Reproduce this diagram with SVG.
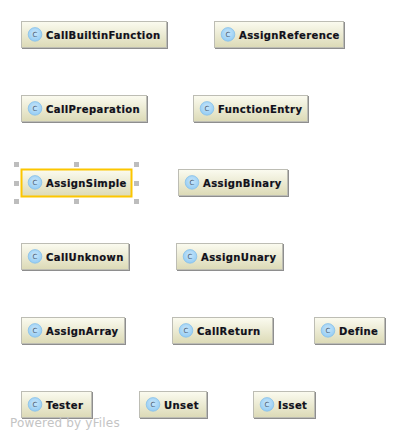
<svg xmlns="http://www.w3.org/2000/svg" width="406" height="439" viewBox="0 0 406 439">
<defs>
<linearGradient id="g" x1="0" y1="0" x2="0" y2="1"><stop offset="0" stop-color="#fbfbf0"/><stop offset="1" stop-color="#dcdab6"/></linearGradient>
<radialGradient id="c" cx="0.5" cy="0.4" r="0.6"><stop offset="0" stop-color="#c8e6fa"/><stop offset="1" stop-color="#94ccf4"/></radialGradient>
<g id="icon"><circle cx="14" cy="13.4" r="6.8" fill="url(#c)" stroke="#88c0e8" stroke-width="0.8"/><text x="14" y="15.8" class="ic">C</text></g>
</defs>
<style>
.b{fill:url(#g);stroke:#bdbdb4;stroke-width:1}
.s{fill:#8e8e8e}
.t{font:bold 10px "DejaVu Sans",sans-serif;fill:#10101a;stroke:#10101a;stroke-width:.2px;letter-spacing:.42px}
.ic{font:7px "DejaVu Sans",sans-serif;fill:#4a5a70;text-anchor:middle}
.h{fill:#bdbdbd}
.w{font:12px "DejaVu Sans",sans-serif;fill:#c4c4c4;letter-spacing:.18px}
</style>
<g id="connectors"/>
<g id="n1" transform="translate(21,21)"><rect class="s" x="1" y="1" width="146" height="27"/><rect class="b" x=".5" y=".5" width="145" height="26"/><use href="#icon"/><text class="t" x="25" y="18">CallBuiltinFunction</text></g>
<g id="n2" transform="translate(214,21)"><rect class="s" x="1" y="1" width="130" height="27"/><rect class="b" x=".5" y=".5" width="129" height="26"/><use href="#icon"/><text class="t" x="25" y="18">AssignReference</text></g>
<g id="n3" transform="translate(21,95)"><rect class="s" x="1" y="1" width="126" height="27"/><rect class="b" x=".5" y=".5" width="125" height="26"/><use href="#icon"/><text class="t" x="25" y="18">CallPreparation</text></g>
<g id="n4" transform="translate(193,95)"><rect class="s" x="1" y="1" width="115" height="27"/><rect class="b" x=".5" y=".5" width="114" height="26"/><use href="#icon"/><text class="t" x="25" y="18">FunctionEntry</text></g>
<g id="n5" transform="translate(21,169)"><rect x=".5" y=".5" width="110" height="27" fill="url(#g)" stroke="#fcc600" stroke-width="2"/><use href="#icon"/><text class="t" x="25" y="18">AssignSimple</text></g>
<g id="handles"><rect class="h" x="14" y="162" width="5" height="5"/><rect class="h" x="74" y="162" width="5" height="5"/><rect class="h" x="134" y="162" width="5" height="5"/><rect class="h" x="14" y="181" width="5" height="5"/><rect class="h" x="134" y="181" width="5" height="5"/><rect class="h" x="14" y="199" width="5" height="5"/><rect class="h" x="74" y="199" width="5" height="5"/><rect class="h" x="134" y="199" width="5" height="5"/></g>
<g id="n6" transform="translate(178,169)"><rect class="s" x="1" y="1" width="110" height="27"/><rect class="b" x=".5" y=".5" width="109" height="26"/><use href="#icon"/><text class="t" x="25" y="18">AssignBinary</text></g>
<g id="n7" transform="translate(21,243)"><rect class="s" x="1" y="1" width="108" height="27"/><rect class="b" x=".5" y=".5" width="107" height="26"/><use href="#icon"/><text class="t" x="25" y="18">CallUnknown</text></g>
<g id="n8" transform="translate(176,243)"><rect class="s" x="1" y="1" width="107" height="27"/><rect class="b" x=".5" y=".5" width="106" height="26"/><use href="#icon"/><text class="t" x="25" y="18">AssignUnary</text></g>
<g id="n9" transform="translate(21,317)"><rect class="s" x="1" y="1" width="104" height="27"/><rect class="b" x=".5" y=".5" width="103" height="26"/><use href="#icon"/><text class="t" x="25" y="18">AssignArray</text></g>
<g id="n10" transform="translate(172,317)"><rect class="s" x="1" y="1" width="101" height="27"/><rect class="b" x=".5" y=".5" width="100" height="26"/><use href="#icon"/><text class="t" x="25" y="18">CallReturn</text></g>
<g id="n11" transform="translate(314,317)"><rect class="s" x="1" y="1" width="71" height="27"/><rect class="b" x=".5" y=".5" width="70" height="26"/><use href="#icon"/><text class="t" x="25" y="18">Define</text></g>
<g id="n12" transform="translate(21,391)"><rect class="s" x="1" y="1" width="71" height="27"/><rect class="b" x=".5" y=".5" width="70" height="26"/><use href="#icon"/><text class="t" x="25" y="18">Tester</text></g>
<g id="n13" transform="translate(139,391)"><rect class="s" x="1" y="1" width="68" height="27"/><rect class="b" x=".5" y=".5" width="67" height="26"/><use href="#icon"/><text class="t" x="25" y="18">Unset</text></g>
<g id="n14" transform="translate(253,391)"><rect class="s" x="1" y="1" width="62" height="27"/><rect class="b" x=".5" y=".5" width="61" height="26"/><use href="#icon"/><text class="t" x="25" y="18">Isset</text></g>
<text id="watermark" class="w" x="10" y="427">Powered by yFiles</text>
</svg>
